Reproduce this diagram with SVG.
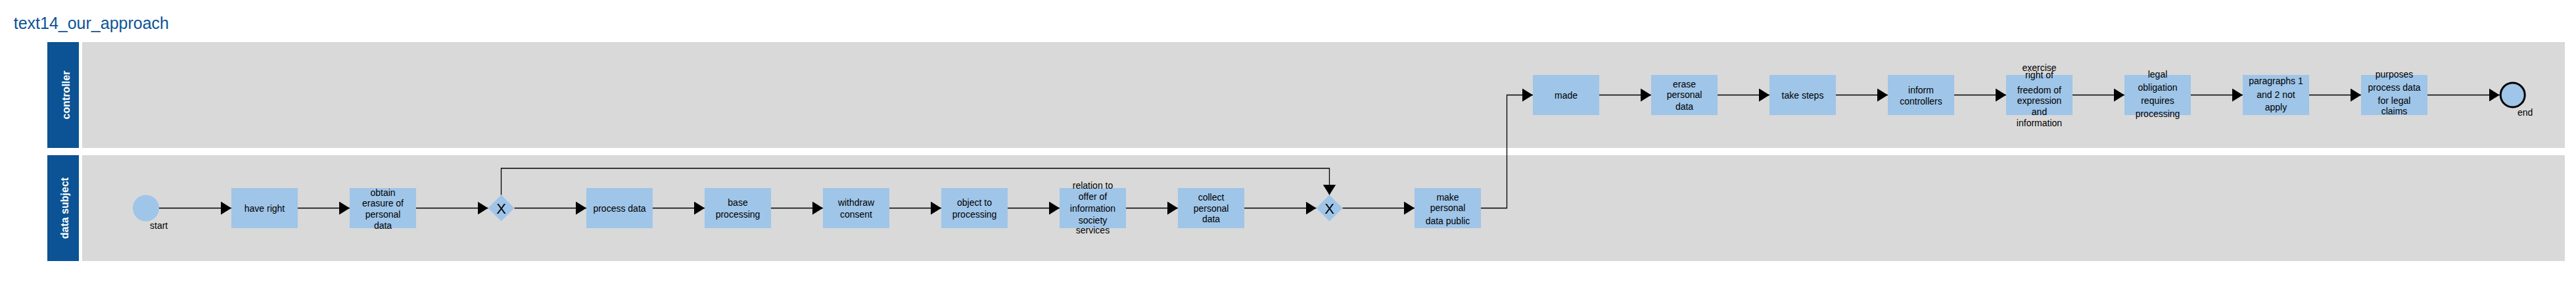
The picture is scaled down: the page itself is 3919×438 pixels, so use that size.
<svg xmlns="http://www.w3.org/2000/svg" width="3919" height="438" viewBox="0 0 3919 438">
<defs>
<marker id="arr" markerUnits="userSpaceOnUse" markerWidth="16" markerHeight="20" refX="16" refY="10" orient="auto">
<path d="M0,0 L16,10 L0,20 z" fill="#000"/>
</marker>
<style>
.title{font-family:"Liberation Sans",Arial,sans-serif;font-size:25px;fill:#0b5394}
.lane{fill:#d9d9d9}
.hdr{fill:#0b5394}
.hdrt{font-family:"Liberation Sans",Arial,sans-serif;font-size:16px;font-weight:bold;fill:#fff;text-anchor:middle}
.task{fill:#9fc5e8}
.t{font-family:"Liberation Sans",Arial,sans-serif;font-size:14px;fill:#000;text-anchor:middle}
.lbl{font-family:"Liberation Sans",Arial,sans-serif;font-size:14px;fill:#000}
.gx{font-family:"Liberation Sans",Arial,sans-serif;font-size:22px;fill:#000;text-anchor:middle}
.c{fill:none;stroke:#000;stroke-width:1.3}
.ca{fill:none;stroke:#000;stroke-width:1.3;marker-end:url(#arr)}
</style>
</defs>
<rect width="3919" height="438" fill="#fff"/>
<text class="title" x="20.7" y="44">text14_our_approach</text>

<g id="lane-controller">
<rect class="hdr" x="72" y="64" width="48" height="161"/>
<rect class="lane" x="125" y="64" width="3777" height="161"/>
<text class="hdrt" transform="translate(106,144.5) rotate(-90)">controller</text>
</g>
<g id="lane-data-subject">
<rect class="hdr" x="72" y="236" width="48" height="161"/>
<rect class="lane" x="125" y="236" width="3777" height="161"/>
<text class="hdrt" transform="translate(104,316.5) rotate(-90)">data subject</text>
</g>

<g id="connectors">
<line class="ca" x1="242" y1="316.5" x2="352" y2="316.5"/>
<line class="ca" x1="453" y1="316.5" x2="532" y2="316.5"/>
<line class="ca" x1="633" y1="316.5" x2="742.5" y2="316.5"/>
<line class="ca" x1="782.5" y1="316.5" x2="892" y2="316.5"/>
<line class="ca" x1="993" y1="316.5" x2="1072" y2="316.5"/>
<line class="ca" x1="1173" y1="316.5" x2="1252" y2="316.5"/>
<line class="ca" x1="1353" y1="316.5" x2="1432" y2="316.5"/>
<line class="ca" x1="1533" y1="316.5" x2="1612" y2="316.5"/>
<line class="ca" x1="1713" y1="316.5" x2="1792" y2="316.5"/>
<line class="ca" x1="1893" y1="316.5" x2="2002.5" y2="316.5"/>
<polyline class="ca" points="762.5,296.5 762.5,256 2022.5,256 2022.5,296.5"/>
<line class="ca" x1="2042.5" y1="316.5" x2="2152" y2="316.5"/>
<polyline class="ca" points="2253,316.5 2292.5,316.5 2292.5,144.5 2332,144.5"/>
<line class="ca" x1="2433" y1="144.5" x2="2512" y2="144.5"/>
<line class="ca" x1="2613" y1="144.5" x2="2692" y2="144.5"/>
<line class="ca" x1="2793" y1="144.5" x2="2872" y2="144.5"/>
<line class="ca" x1="2973" y1="144.5" x2="3052" y2="144.5"/>
<line class="ca" x1="3153" y1="144.5" x2="3232" y2="144.5"/>
<line class="ca" x1="3333" y1="144.5" x2="3412" y2="144.5"/>
<line class="ca" x1="3513" y1="144.5" x2="3592" y2="144.5"/>
<line class="ca" x1="3693" y1="144.5" x2="3802.7" y2="144.5"/>
</g>

<g id="start">
<circle cx="222" cy="316.5" r="20" fill="#9fc5e8"/>
<text class="lbl" x="228" y="348.3">start</text>
</g>
<g id="have-right">
<rect class="task" x="352" y="286" width="101" height="61"/>
<text class="t" x="402.5" y="321.5">have right</text>
</g>
<g id="obtain-erasure">
<rect class="task" x="532" y="286" width="101" height="61"/>
<text class="t" x="582.5" y="297.5">obtain</text>
<text class="t" x="582.5" y="314.3">erasure of</text>
<text class="t" x="582.5" y="331">personal</text>
<text class="t" x="582.5" y="348">data</text>
</g>
<g id="gateway-1">
<polygon class="task" points="762.5,296.5 782.5,316.5 762.5,336.5 742.5,316.5"/>
<text class="gx" x="762.5" y="325.3">X</text>
</g>
<g id="process-data">
<rect class="task" x="892" y="286" width="101" height="61"/>
<text class="t" x="942.5" y="321.5">process data</text>
</g>
<g id="base-processing">
<rect class="task" x="1072" y="286" width="101" height="61"/>
<text class="t" x="1122.5" y="313.3">base</text>
<text class="t" x="1122.5" y="330.5">processing</text>
</g>
<g id="withdraw-consent">
<rect class="task" x="1252" y="286" width="101" height="61"/>
<text class="t" x="1302.5" y="313.3">withdraw</text>
<text class="t" x="1302.5" y="330.5">consent</text>
</g>
<g id="object-to-processing">
<rect class="task" x="1432" y="286" width="101" height="61"/>
<text class="t" x="1482.5" y="313.3">object to</text>
<text class="t" x="1482.5" y="330.5">processing</text>
</g>
<g id="relation-to-offer">
<rect class="task" x="1612" y="286" width="101" height="61"/>
<text class="t" x="1662.5" y="287.3">relation to</text>
<text class="t" x="1662.5" y="304.3">offer of</text>
<text class="t" x="1662.5" y="321.7">information</text>
<text class="t" x="1662.5" y="340">society</text>
<text class="t" x="1662.5" y="355">services</text>
</g>
<g id="collect-personal-data">
<rect class="task" x="1792" y="286" width="101" height="61"/>
<text class="t" x="1842.5" y="305">collect</text>
<text class="t" x="1842.5" y="321.5">personal</text>
<text class="t" x="1842.5" y="338.3">data</text>
</g>
<g id="gateway-2">
<polygon class="task" points="2022.5,296.5 2042.5,316.5 2022.5,336.5 2002.5,316.5"/>
<text class="gx" x="2022.5" y="325.3">X</text>
</g>
<g id="make-personal-data-public">
<rect class="task" x="2152" y="286" width="101" height="61"/>
<text class="t" x="2202.5" y="305">make</text>
<text class="t" x="2202.5" y="321">personal</text>
<text class="t" x="2202.5" y="340.7">data public</text>
</g>

<g id="made">
<rect class="task" x="2332" y="114" width="101" height="61"/>
<text class="t" x="2382.5" y="149.8">made</text>
</g>
<g id="erase-personal-data">
<rect class="task" x="2512" y="114" width="101" height="61"/>
<text class="t" x="2562.5" y="132.7">erase</text>
<text class="t" x="2562.5" y="149">personal</text>
<text class="t" x="2562.5" y="166.7">data</text>
</g>
<g id="take-steps">
<rect class="task" x="2692" y="114" width="101" height="61"/>
<text class="t" x="2742.5" y="149.5">take steps</text>
</g>
<g id="inform-controllers">
<rect class="task" x="2872" y="114" width="101" height="61"/>
<text class="t" x="2922.5" y="141.5">inform</text>
<text class="t" x="2922.5" y="158.8">controllers</text>
</g>
<g id="exercise-right">
<rect class="task" x="3052" y="114" width="101" height="61"/>
<text class="t" x="3102.5" y="107.5">exercise</text>
<text class="t" x="3102.5" y="118.5">right of</text>
<text class="t" x="3102.5" y="141.7">freedom of</text>
<text class="t" x="3102.5" y="158.3">expression</text>
<text class="t" x="3102.5" y="175">and</text>
<text class="t" x="3102.5" y="192.3">information</text>
</g>
<g id="legal-obligation">
<rect class="task" x="3232" y="114" width="101" height="61"/>
<text class="t" x="3282.5" y="118.3">legal</text>
<text class="t" x="3282.5" y="138.3">obligation</text>
<text class="t" x="3282.5" y="158.3">requires</text>
<text class="t" x="3282.5" y="178.3">processing</text>
</g>
<g id="paragraphs-not-apply">
<rect class="task" x="3412" y="114" width="101" height="61"/>
<text class="t" x="3462.5" y="128.3">paragraphs 1</text>
<text class="t" x="3462.5" y="149">and 2 not</text>
<text class="t" x="3462.5" y="168.3">apply</text>
</g>
<g id="purposes-legal-claims">
<rect class="task" x="3592" y="114" width="101" height="61"/>
<text class="t" x="3642.5" y="118.3">purposes</text>
<text class="t" x="3642.5" y="138.3">process data</text>
<text class="t" x="3642.5" y="158.3">for legal</text>
<text class="t" x="3642.5" y="174">claims</text>
</g>
<g id="end">
<circle cx="3822.7" cy="144.4" r="18.5" fill="#9fc5e8" stroke="#000" stroke-width="3"/>
<text class="lbl" x="3830" y="176">end</text>
</g>
</svg>
